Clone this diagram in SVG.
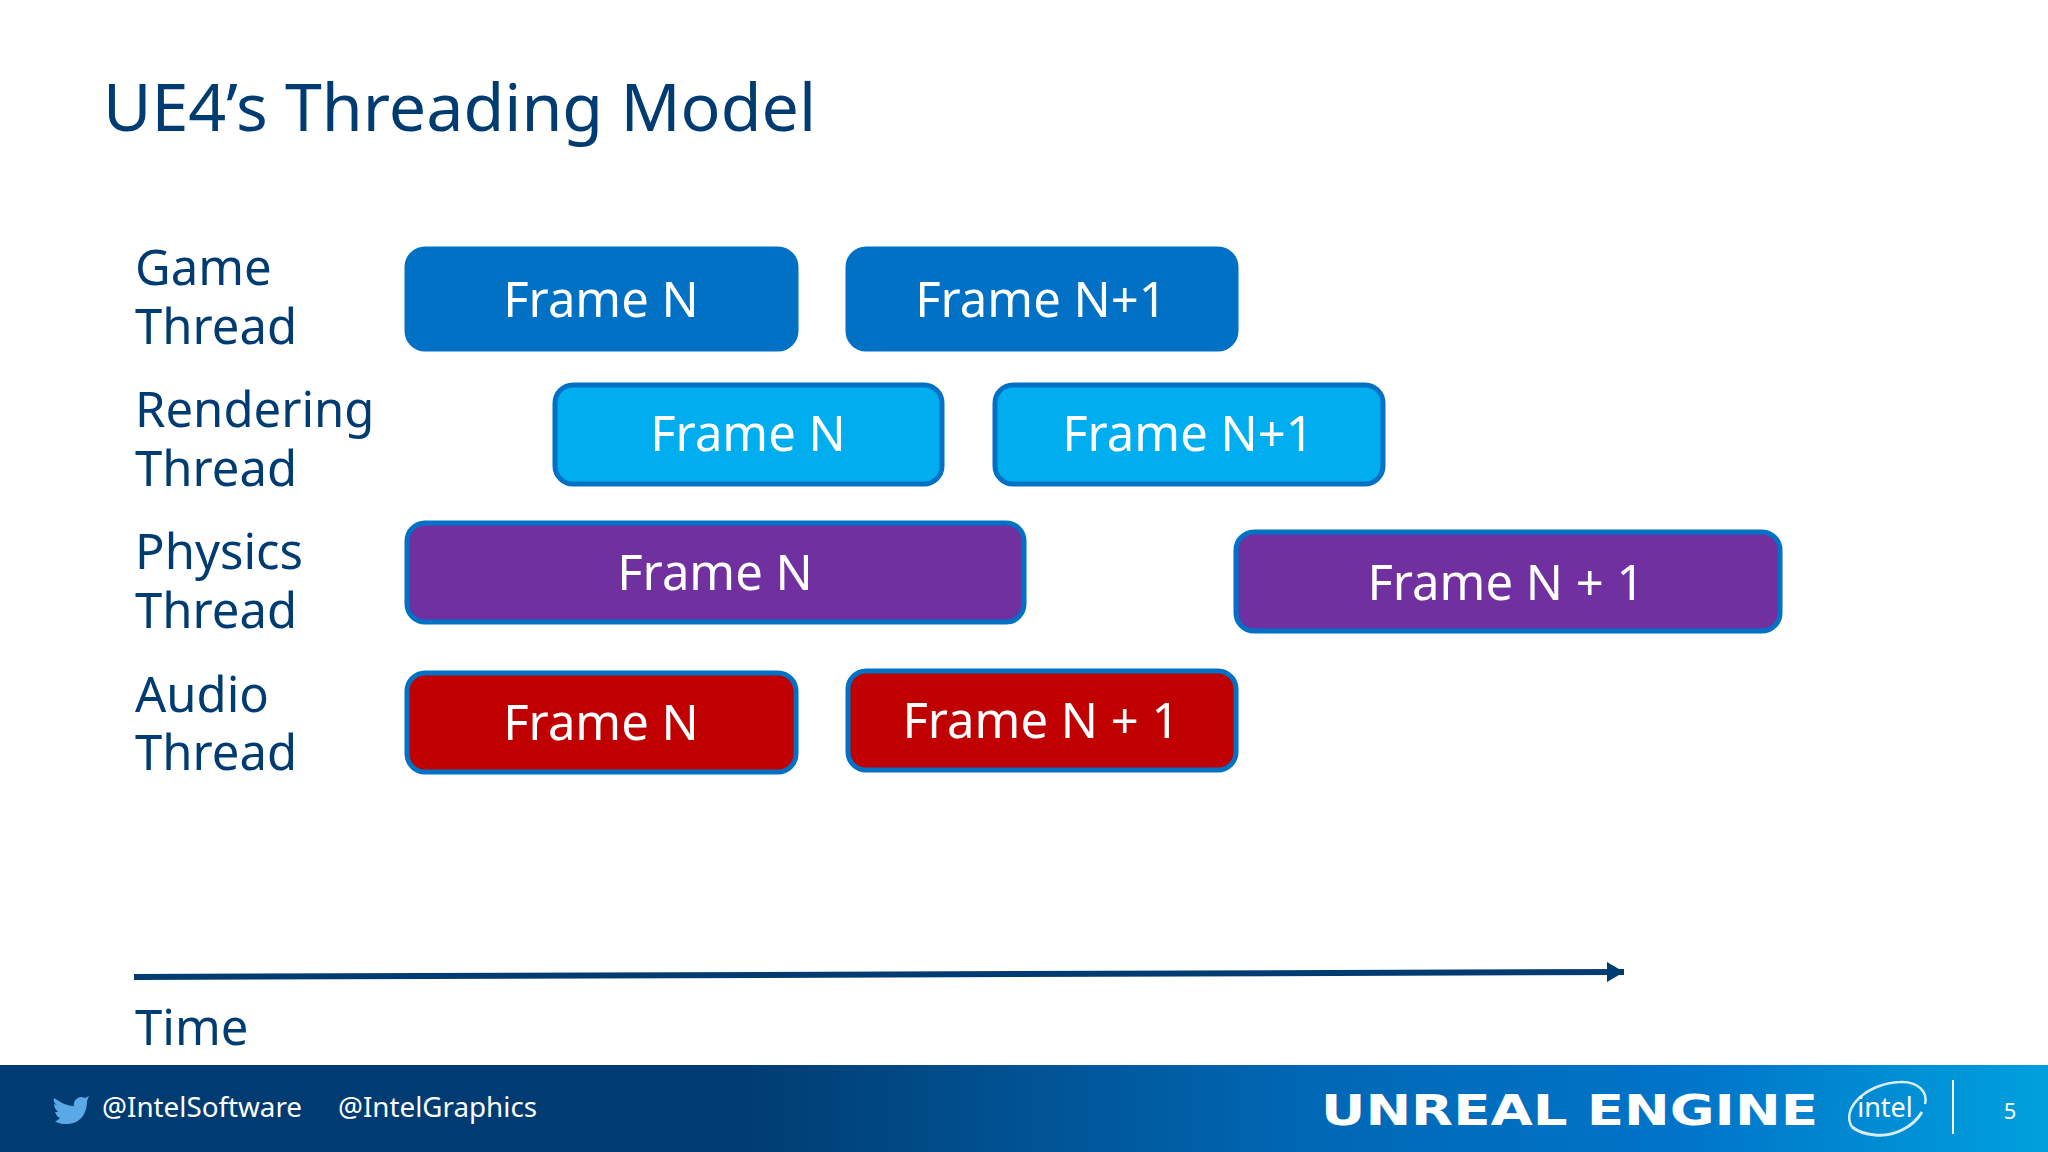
<svg xmlns="http://www.w3.org/2000/svg" width="2048" height="1152" viewBox="0 0 2048 1152">
<style>
text{font-family:"Noto Sans","Open Sans","Liberation Sans",sans-serif}
.lab{font-size:49px;fill:#003c71}
.box{stroke:#0071c5;stroke-width:5}
.ft{font-size:49px;fill:#fff;text-anchor:middle}
.soc{font-size:28px;fill:#fff}
</style>
<defs>
<linearGradient id="bar" x1="0" y1="0" x2="1" y2="0">
<stop offset="0" stop-color="#003c71"/><stop offset="0.36" stop-color="#003c71"/><stop offset="0.64" stop-color="#0068b5"/><stop offset="0.82" stop-color="#0074c8"/><stop offset="1" stop-color="#00a0dd"/>
</linearGradient>
<marker id="arr" markerUnits="userSpaceOnUse" markerWidth="18" markerHeight="20" refX="17" refY="10" orient="auto"><path d="M0 0L17 10L0 20Z" fill="#003c71"/></marker>
</defs>
<rect width="2048" height="1152" fill="#fff"/>
<text x="103" y="131" font-size="66" textLength="713" lengthAdjust="spacingAndGlyphs" style="fill:#003c71">UE4’s Threading Model</text>
<g id="label-game"><text class="lab" x="135" y="285">Game</text><text class="lab" x="135" y="344">Thread</text></g>
<g id="label-rendering"><text class="lab" x="135" y="427">Rendering</text><text class="lab" x="135" y="486">Thread</text></g>
<g id="label-physics"><text class="lab" x="135" y="569">Physics</text><text class="lab" x="135" y="628">Thread</text></g>
<g id="label-audio"><text class="lab" x="135" y="712">Audio</text><text class="lab" x="135" y="770">Thread</text></g>
<g id="game-n"><rect class="box" x="407" y="249" width="389" height="100" rx="18" fill="#0071c5"/><text class="ft" x="601" y="317">Frame N</text></g>
<g id="game-n1"><rect class="box" x="848" y="249" width="388" height="100" rx="18" fill="#0071c5"/><text class="ft" x="1041" y="317">Frame N+1</text></g>
<g id="render-n"><rect class="box" x="555" y="385" width="387" height="99" rx="18" fill="#00aeef"/><text class="ft" x="748" y="451">Frame N</text></g>
<g id="render-n1"><rect class="box" x="995" y="385" width="388" height="99" rx="18" fill="#00aeef"/><text class="ft" x="1188" y="451">Frame N+1</text></g>
<g id="physics-n"><rect class="box" x="407" y="523" width="617" height="99" rx="18" fill="#7030a0"/><text class="ft" x="715" y="590">Frame N</text></g>
<g id="physics-n1"><rect class="box" x="1236" y="532" width="544" height="99" rx="18" fill="#7030a0"/><text class="ft" x="1506" y="600">Frame N + 1</text></g>
<g id="audio-n"><rect class="box" x="407" y="673" width="389" height="99" rx="18" fill="#c00000"/><text class="ft" x="601" y="740">Frame N</text></g>
<g id="audio-n1"><rect class="box" x="848" y="671" width="388" height="99" rx="18" fill="#c00000"/><text class="ft" x="1041" y="738">Frame N + 1</text></g>
<g id="connectors"><line x1="134" y1="977" x2="1624" y2="972" stroke="#003c71" stroke-width="6" marker-end="url(#arr)"/></g>
<text class="lab" x="135" y="1045">Time</text>
<g id="footer">
<rect y="1065" width="2048" height="87" fill="url(#bar)"/>
<path d="M54 1098C61 1103 68 1106 74 1106C73 1099 80 1095 85 1098L89 1096L87 1101C87 1114 80 1125 64 1124C60 1124 57 1122 55 1122L60 1118C57 1117 56 1114 55 1112L58 1112C55 1109 54 1106 54 1104L57 1105C54 1103 53 1101 54 1098Z" fill="#5aa9e6"/>
<text class="soc" x="102" y="1117" textLength="200" lengthAdjust="spacingAndGlyphs">@IntelSoftware</text>
<text class="soc" x="338" y="1117" textLength="199" lengthAdjust="spacingAndGlyphs">@IntelGraphics</text>
<text x="1321" y="1125" font-size="42" font-weight="700" textLength="497" lengthAdjust="spacingAndGlyphs" style="font-family:'DejaVu Sans',sans-serif;fill:#fff">UNREAL ENGINE</text>
<path d="M1852 1127C1840 1108 1868 1083 1900 1082C1918 1081 1928 1092 1925 1104" fill="none" stroke="#fff" stroke-width="2.5" opacity=".85"/>
<path d="M1922 1112C1914 1126 1895 1137 1875 1135C1864 1134 1857 1131 1852 1127" fill="none" stroke="#fff" stroke-width="3" opacity=".85"/>
<text x="1885" y="1117" font-size="27" style="fill:#fff" text-anchor="middle">intel</text>
<line x1="1953" y1="1080" x2="1953" y2="1134" stroke="#fff" stroke-width="2"/>
<text x="2010" y="1119" font-size="22" style="fill:#fff" text-anchor="middle">5</text>
</g>
</svg>
